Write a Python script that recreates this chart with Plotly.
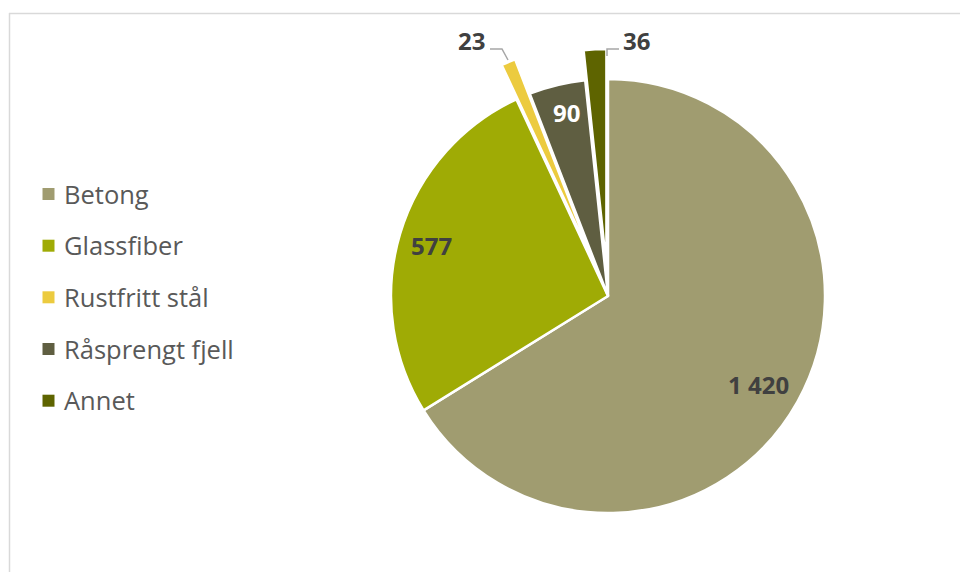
import plotly.graph_objects as go

# Data
categories = ["Betong", "Glassfiber", "Rustfritt stål", "Råsprengt fjell", "Annet"]
values = [1420, 577, 23, 90, 36]

# Styles
colors = ["#A09C70", "#9FAB05", "#ECCB3F", "#5F5E41", "#5E6400"]
pulls = [0, 0, 0.172, 0, 0.138]

W, H = 960, 572
FONT = "Open Sans"


def px(x):
    return x / W


def py(y):
    return 1 - y / H


def fmt(v):
    return f"{v:,}".replace(",", " ")


# Pie geometry (pixels): centre and radius
cx, cy, R = 608, 296, 217
half = R * (1 + max(pulls))

fig = go.Figure()
fig.add_trace(go.Pie(
    labels=categories,
    values=values,
    sort=False,
    direction="clockwise",
    rotation=0,
    pull=pulls,
    marker=dict(colors=colors, line=dict(color="white", width=2.5)),
    textinfo="none",
    hoverinfo="label+value",
    showlegend=False,
    domain=dict(x=[px(cx - half), px(cx + half)], y=[py(cy + half), py(cy - half)]),
))

# Value labels: position (px) and colour per slice
label_pos = [(758, 384), (431, 246), (471, 41), (566, 112), (636, 41)]
label_col = ["#404040", "#404040", "#404040", "#FFFFFF", "#404040"]
annotations = []
for v, (x, y), c in zip(values, label_pos, label_col):
    annotations.append(dict(
        x=px(x), y=py(y), xref="paper", yref="paper", text=f"<b>{fmt(v)}</b>",
        showarrow=False, xanchor="center", yanchor="middle",
        font=dict(family=FONT, size=24, color=c),
    ))

shapes = []
# Leader lines for the outside labels
for pts in [[(490, 49), (502, 49), (508, 60)], [(607, 56), (607, 49), (619, 49)]]:
    path = "M " + " L ".join(f"{px(x)},{py(y)}" for x, y in pts)
    shapes.append(dict(type="path", path=path, xref="paper", yref="paper",
                       line=dict(color="#A6A6A6", width=1.5)))

# Legend: square swatch + name
legend_y = [194, 245.7, 297.3, 349, 400.7]
for name, col, y in zip(categories, colors, legend_y):
    shapes.append(dict(type="rect", xref="paper", yref="paper",
                       x0=px(42.5), x1=px(54.5), y0=py(y + 6), y1=py(y - 6),
                       fillcolor=col, line=dict(width=0)))
    annotations.append(dict(
        x=px(61.5), y=py(y - 0.5), xref="paper", yref="paper", text=name,
        showarrow=False, xanchor="left", yanchor="middle",
        font=dict(family=FONT, size=25.5, color="#595959"),
    ))

# Chart area border (left and top edges)
shapes.append(dict(type="line", xref="paper", yref="paper",
                   x0=px(9.5), x1=px(9.5), y0=py(13), y1=py(H),
                   line=dict(color="#D9D9D9", width=1.5)))
shapes.append(dict(type="line", xref="paper", yref="paper",
                   x0=px(9), x1=px(W), y0=py(13.5), y1=py(13.5),
                   line=dict(color="#D9D9D9", width=1.5)))

fig.update_layout(
    width=W, height=H,
    margin=dict(l=0, r=0, t=0, b=0),
    paper_bgcolor="white", plot_bgcolor="white",
    annotations=annotations,
    shapes=shapes,
    font=dict(family=FONT),
)

fig.write_html("out.html")
